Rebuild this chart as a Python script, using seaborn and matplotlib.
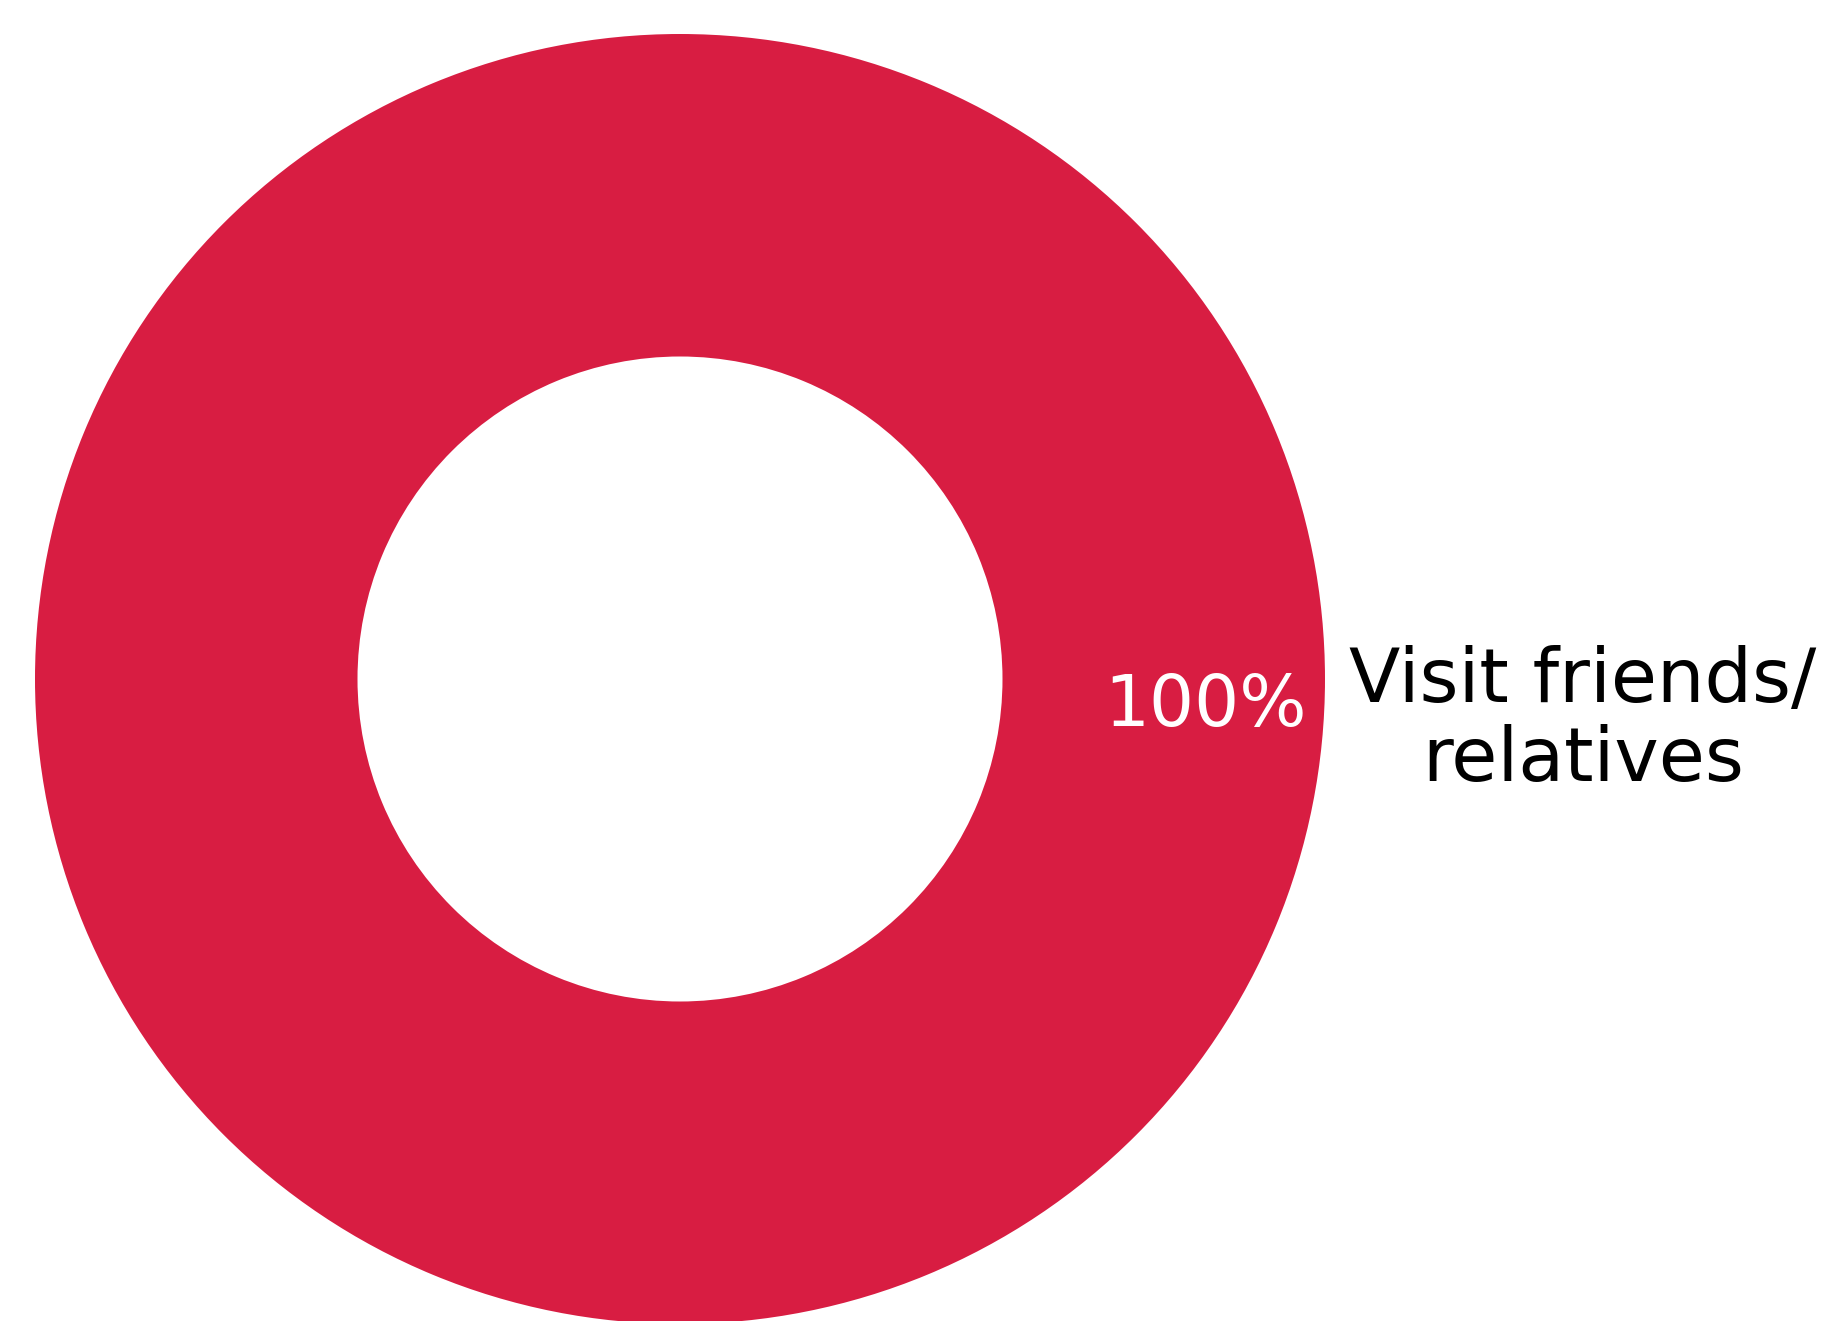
import matplotlib
matplotlib.use("Agg")
import matplotlib.pyplot as plt
import seaborn as sns

categories = ["Visit friends/\nrelatives"]
values = [100]
colors = ["#D81D42"]

sns.set_theme(style="white")
plt.rcParams['font.family'] = ['DejaVu Sans']

W, H = 1844, 1321
fig = plt.figure(figsize=(W / 100, H / 100), dpi=100)
ax = fig.add_axes([0, 0, 1, 1])
R = 645.0
cx, cy = 680.0, H - 679.0

wedges, texts, autotexts = ax.pie(
    values, labels=categories, colors=colors, startangle=180,
    radius=1.0, wedgeprops=dict(width=0.5, edgecolor="none"),
    autopct="%d%%", pctdistance=0.814, labeldistance=1.40,
    frame=False,
)
ax.set_xlim(-cx / R, (W - cx) / R)
ax.set_ylim(-cy / R, (H - cy) / R)
ax.set_aspect("equal")
ax.axis("off")

for t in texts:
    t.set_fontsize(54)
    t.set_color("black")
    t.set_ha("center")
    t.set_va("center")
    t.set_linespacing(1.12)
    x, y = t.get_position()
    t.set_position((x, y - 42 / R))
for t in autotexts:
    t.set_fontsize(51)
    t.set_color("white")
    t.set_ha("center")
    t.set_va("center")
    x, y = t.get_position()
    t.set_position((x, y - 28 / R))

fig.savefig("out.png", dpi=100, facecolor="white")
